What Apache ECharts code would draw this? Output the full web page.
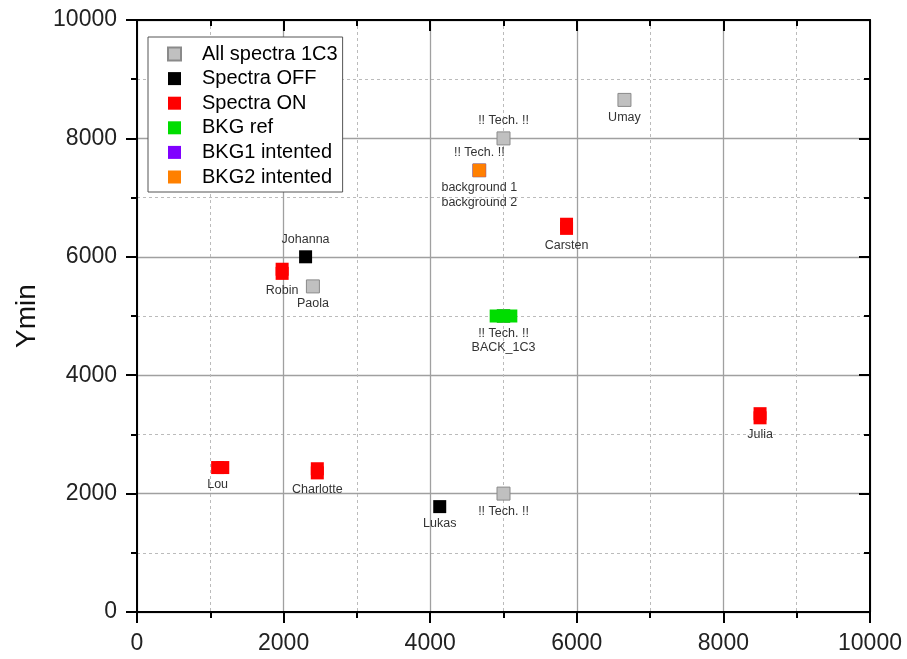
<!DOCTYPE html>
<html><head><meta charset="utf-8">
<script src="https://cdn.jsdelivr.net/npm/echarts@6/dist/echarts.min.js"></script>
<style>html,body{margin:0;padding:0;background:#fff}#c{width:907px;height:659px}</style>
</head><body><div id="c"></div>
<script>
// ---- data ----
const seriesNames = ['All spectra 1C3','Spectra OFF','Spectra ON','BKG ref','BKG1 intented','BKG2 intented'];
const grayX = [5000, 6650, 2400, 5000, 4670, 5000];
const grayY = [8000, 8650, 5500, 2000, 7460, 5000];
const grayLabels = ['!! Tech. !!','Umay','Paola','!! Tech. !!','!! Tech. !!','!! Tech. !!'];
const offX = [2300, 4130];
const offY = [6000, 1780];
const offLabels = ['Johanna','Lukas'];
const onX = [1980, 1980, 1100, 1170, 2460, 2460, 5860, 5860, 8500, 8500];
const onY = [5720, 5790, 2440, 2440, 2350, 2420, 6480, 6550, 3280, 3350];
const onLabels = ['Robin','', 'Lou','', 'Charlotte','', 'Carsten','', 'Julia',''];
const bkgX = [4900, 5000, 5100];
const bkgY = [5000, 5000, 5000];
const bkgLabels = ['', 'BACK_1C3', ''];
const bkg1X = [4670];
const bkg1Y = [7460];
const bkg1Labels = ['background 1'];
const bkg2X = [4670];
const bkg2Y = [7460];
const bkg2Labels = ['background 2'];
const xTicks = [0, 2000, 4000, 6000, 8000, 10000];
const yTicks = [0, 2000, 4000, 6000, 8000, 10000];

// ---- presentation ----
const topLabelNames = {'Johanna':1};
const topLabelIdxGray = {0:1, 4:1};
const extraOffset = {'BACK_1C3':15, 'background 2':15};
const colors = ['#c0c0c0','#000000','#ff0000','#00dd00','#8000ff','#ff8000'];
const FONT = 'Liberation Sans, Arial, sans-serif';

function build(xs, ys, labels, isGray){
  return xs.map((x,i)=>{
    const t = labels[i];
    const top = isGray ? !!topLabelIdxGray[i] : !!topLabelNames[t];
    const off = extraOffset[t] || 0;
    return {
      value:[x, ys[i]],
      label:{show: !!t, formatter: t, position: top?'top':'bottom', offset:[0, off]}
    };
  });
}
function tickFmt(v){ return xTicks.indexOf(v) >= 0 || yTicks.indexOf(v) >= 0 ? String(v) : ''; }

const chart = echarts.init(document.getElementById('c'), null, {renderer:'canvas'});
const baseLabel = {fontFamily: FONT, fontSize: 12.5, color: '#333', distance: 4};
const sets = [
  [grayX, grayY, grayLabels, true],
  [offX, offY, offLabels, false],
  [onX, onY, onLabels, false],
  [bkgX, bkgY, bkgLabels, false],
  [bkg1X, bkg1Y, bkg1Labels, false],
  [bkg2X, bkg2Y, bkg2Labels, false]
];
const series = sets.map((s, k)=>({
  name: seriesNames[k],
  type: 'scatter',
  symbol: 'rect',
  symbolSize: 13,
  xAxisIndex: 0, yAxisIndex: 0,
  itemStyle: {color: colors[k], borderColor: k===0 ? '#8a8a8a' : colors[k], borderWidth: k===0 ? 1 : 0, opacity: 1},
  label: baseLabel,
  emphasis: {disabled: true},
  z: 3 + k,
  data: build(s[0], s[1], s[2], s[3])
}));

const tickStyle = {show:true, length:11, lineStyle:{color:'#000', width:2}};
const minorTickStyle = {show:true, splitNumber:2, length:6, lineStyle:{color:'#000', width:2}};
const mainAxisCommon = {
  min: 0, max: 10000, interval: 2000,
  axisLine: {show:true, onZero:false, lineStyle:{color:'#000', width:2}},
  axisTick: Object.assign({inside:false}, tickStyle),
  minorTick: minorTickStyle,
  splitLine: {show:true, lineStyle:{color:'#a0a0a0', width:1.3}},
  minorSplitLine: {show:true, lineStyle:{color:'#bbbbbb', width:1, type:[3,3]}}
};
const mirrorCommon = {
  min: 0, max: 10000, interval: 2000,
  axisLine: {show:true, onZero:false, lineStyle:{color:'#000', width:2}},
  axisTick: Object.assign({inside:true}, tickStyle),
  minorTick: minorTickStyle,
  axisLabel: {show:false},
  splitLine: {show:false},
  minorSplitLine: {show:false}
};

chart.setOption({
  animation: false,
  backgroundColor: '#fff',
  grid: {left:137, top:20, right:37, bottom:47, containLabel:false},
  xAxis: [
    Object.assign({type:'value', position:'bottom'}, mainAxisCommon, {axisLabel:{fontFamily:FONT, fontSize:23, color:'#222', margin:20, formatter: tickFmt}}),
    Object.assign({type:'value', position:'top'}, mirrorCommon)
  ],
  yAxis: [
    Object.assign({type:'value', position:'left', name:'Ymin', nameLocation:'middle', nameGap:96,
      nameTextStyle:{fontFamily:FONT, fontSize:28, color:'#111'}}, mainAxisCommon, {axisLabel:{fontFamily:FONT, fontSize:23, color:'#222', margin:20, formatter: tickFmt}}),
    Object.assign({type:'value', position:'right'}, mirrorCommon)
  ],
  legend: {
    show: true,
    orient: 'vertical',
    left: 148, top: 37,
    padding: [7, 5, 5, 19],
    itemWidth: 13, itemHeight: 13, itemGap: 4.6,
    icon: 'rect',
    backgroundColor: '#fff',
    borderColor: '#555', borderWidth: 1, borderRadius: 0,
    textStyle: {fontFamily: FONT, fontSize: 20, color: '#000', padding:[0,0,0,16]},
    data: seriesNames
  },
  series: series
});
</script>
</body></html>
